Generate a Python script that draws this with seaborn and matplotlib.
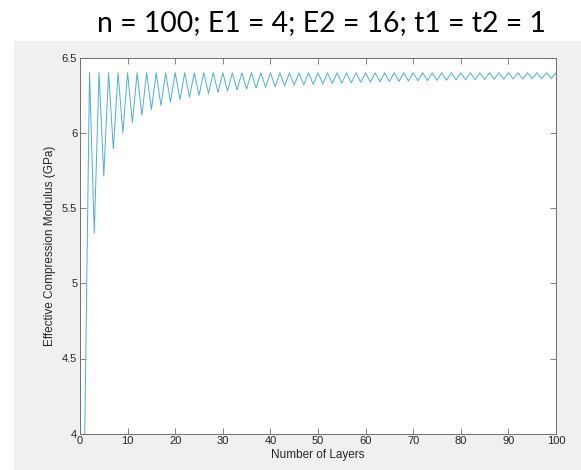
import matplotlib
matplotlib.use("Agg")
import matplotlib.pyplot as plt
import seaborn as sns
import pandas as pd
from matplotlib.patches import Rectangle

# Effective compression modulus (GPa) for stacks of 1..100 alternating layers
layers = list(range(1, 101))
odd_count_modulus = [
    4.0000, 5.3333, 5.7143, 5.8947, 6.0000, 6.0690, 6.1176, 6.1538, 6.1818, 6.2041,
    6.2222, 6.2373, 6.2500, 6.2609, 6.2703, 6.2785, 6.2857, 6.2921, 6.2979, 6.3030,
    6.3077, 6.3119, 6.3158, 6.3193, 6.3226, 6.3256, 6.3284, 6.3309, 6.3333, 6.3356,
    6.3377, 6.3396, 6.3415, 6.3432, 6.3448, 6.3464, 6.3478, 6.3492, 6.3505, 6.3518,
    6.3529, 6.3541, 6.3551, 6.3562, 6.3571, 6.3581, 6.3590, 6.3598, 6.3607, 6.3614,
]
even_count_modulus = [6.4] * 50

modulus = []
for lo, hi in zip(odd_count_modulus, even_count_modulus):
    modulus.extend([lo, hi])

x_ticks = list(range(0, 101, 10))
y_ticks = [4, 4.5, 5, 5.5, 6, 6.5]
y_tick_labels = ["4", "4.5", "5", "5.5", "6", "6.5"]

title_text = "n = 100; E1 = 4; E2 = 16; t1 = t2 = 1"
x_label = "Number of Layers"
y_label = "Effective Compression Modulus (GPa)"

df = pd.DataFrame({"layers": layers, "modulus": modulus})

sns.set_style("ticks")
plt.rcParams["font.family"] = ["Liberation Sans", "DejaVu Sans"]

fig = plt.figure(figsize=(5.81, 4.70), dpi=100, facecolor="white")

# grey figure window panel behind the axes
fig.patches.append(Rectangle((14 / 581, 0), 1 - 14 / 581, 1 - 41 / 470,
                             transform=fig.transFigure, facecolor="#f0f0f0",
                             edgecolor="none", zorder=-5))

ax = fig.add_axes([80 / 581, (470 - 433.7) / 470, (556 - 80) / 581, (433.7 - 57.7) / 470])
ax.set_zorder(2)
ax.set_facecolor("white")

sns.lineplot(data=df, x="layers", y="modulus", ax=ax, color="#4aaee3",
             linewidth=0.7, estimator=None)

ax.set_xlim(0, 100)
ax.set_ylim(4, 6.5)
ax.set_xticks(x_ticks)
ax.set_xticklabels([str(t) for t in x_ticks])
ax.set_yticks(y_ticks)
ax.set_yticklabels(y_tick_labels)

axis_col = "#262626"
for side in ["left", "right", "top", "bottom"]:
    ax.spines[side].set_visible(True)
    ax.spines[side].set_color("#6e6e6e")
    ax.spines[side].set_linewidth(0.7)

ax.tick_params(direction="in", length=4, width=0.6, colors="#6e6e6e",
               top=True, right=True, labelsize=8, labelcolor=axis_col, pad=2)

ax.set_xlabel(x_label, fontsize=8.5, color=axis_col, labelpad=2)
ax.set_ylabel(y_label, fontsize=8.5, color=axis_col, labelpad=4)

fig.text(0.553, 1 - 31 / 470, title_text, ha="center", va="baseline",
         fontsize=20.4, family=["Lato", "DejaVu Sans"], color="black", zorder=3)

fig.savefig("out.png", dpi=100, facecolor="white")
